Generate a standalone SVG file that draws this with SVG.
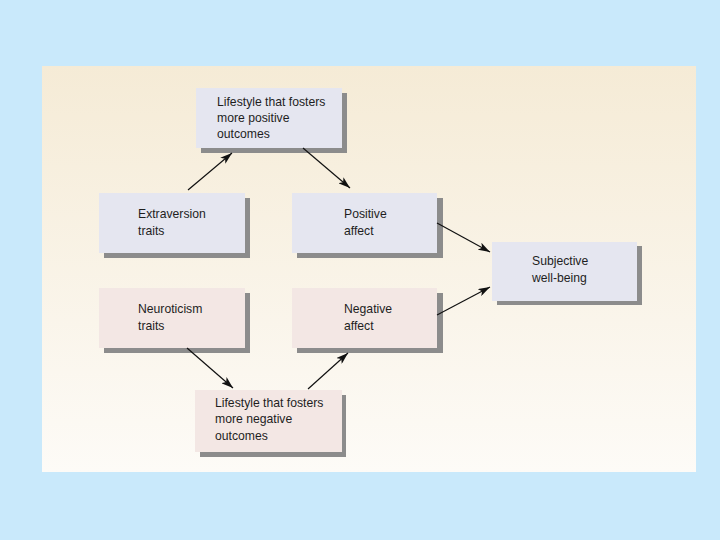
<svg xmlns="http://www.w3.org/2000/svg" width="720" height="540" viewBox="0 0 720 540">
<defs>
<linearGradient id="panelGrad" x1="0" y1="0" x2="0" y2="1">
<stop offset="0" stop-color="#F5EBD6"/>
<stop offset="1" stop-color="#FDFBF7"/>
</linearGradient>
<marker id="arrow" viewBox="0 0 12 8" refX="12" refY="4" markerWidth="12" markerHeight="8" markerUnits="userSpaceOnUse" orient="auto">
<path d="M0,0 L12,4 L0,8 L3,4 Z" fill="#111"/>
</marker>
</defs>
<style>
.shadow{fill:#8C8C8C}
.blue{fill:#E5E6F0}
.pink{fill:#F3E7E4}
.lbl{font-family:"Liberation Sans",Arial,sans-serif;font-size:12.2px;fill:#1E1E1E}
.conn{stroke:#111;stroke-width:1.2;fill:none;marker-end:url(#arrow)}
</style>
<rect x="0" y="0" width="720" height="540" fill="#C9E9FB"/>
<rect x="42" y="66" width="654" height="406" fill="url(#panelGrad)"/>

<g id="node-positive-lifestyle">
<rect class="shadow" x="201" y="93" width="146" height="60"/>
<rect class="blue" x="196" y="88" width="146" height="60"/>
<text class="lbl" x="217" y="106">Lifestyle that fosters</text>
<text class="lbl" x="217" y="122">more positive</text>
<text class="lbl" x="217" y="138">outcomes</text>
</g>

<g id="node-extraversion">
<rect class="shadow" x="104" y="198" width="146" height="60"/>
<rect class="blue" x="99" y="193" width="146" height="60"/>
<text class="lbl" x="138" y="218">Extraversion</text>
<text class="lbl" x="138" y="235">traits</text>
</g>

<g id="node-positive-affect">
<rect class="shadow" x="297" y="198" width="146" height="60"/>
<rect class="blue" x="292" y="193" width="145" height="60"/>
<text class="lbl" x="344" y="218">Positive</text>
<text class="lbl" x="344" y="235">affect</text>
</g>

<g id="node-subjective">
<rect class="shadow" x="497" y="246" width="145" height="59"/>
<rect class="blue" x="492" y="242" width="145" height="59"/>
<text class="lbl" x="532" y="265">Subjective</text>
<text class="lbl" x="532" y="282">well-being</text>
</g>

<g id="node-neuroticism">
<rect class="shadow" x="104" y="293" width="146" height="60"/>
<rect class="pink" x="99" y="288" width="146" height="60"/>
<text class="lbl" x="138" y="313">Neuroticism</text>
<text class="lbl" x="138" y="330">traits</text>
</g>

<g id="node-negative-affect">
<rect class="shadow" x="297" y="293" width="146" height="60"/>
<rect class="pink" x="292" y="288" width="145" height="60"/>
<text class="lbl" x="344" y="313">Negative</text>
<text class="lbl" x="344" y="330">affect</text>
</g>

<g id="node-negative-lifestyle">
<rect class="shadow" x="200" y="395" width="146" height="62"/>
<rect class="pink" x="195" y="390" width="147" height="62"/>
<text class="lbl" x="215" y="407">Lifestyle that fosters</text>
<text class="lbl" x="215" y="423">more negative</text>
<text class="lbl" x="215" y="440">outcomes</text>
</g>

<g id="connectors">
<line class="conn" x1="188" y1="190" x2="232" y2="153"/>
<line class="conn" x1="303" y1="148" x2="350" y2="188"/>
<line class="conn" x1="437" y1="223" x2="490" y2="252"/>
<line class="conn" x1="437" y1="315" x2="490" y2="287"/>
<line class="conn" x1="187" y1="348" x2="233" y2="388"/>
<line class="conn" x1="308" y1="389" x2="348" y2="353"/>
</g>
</svg>
